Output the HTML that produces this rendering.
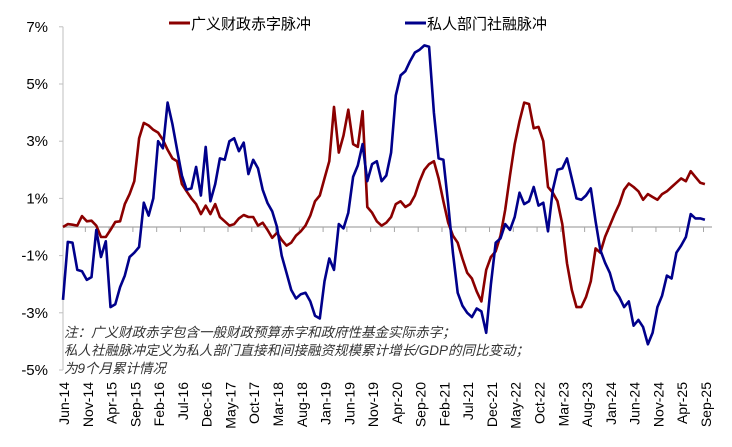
<!DOCTYPE html>
<html><head><meta charset="utf-8"><style>
html,body{margin:0;padding:0;background:#fff;}
svg{display:block;font-family:"Liberation Sans","Noto Sans CJK SC",sans-serif;}
</style></head><body>
<svg id="chart" width="732" height="447" viewBox="0 0 732 447">
<g id="axes"></g>
<g id="series"></g>
<g>
 <line x1="169" y1="23" x2="190" y2="23" stroke="#8B0000" stroke-width="3"/>
 <text x="191" y="29" font-size="15" fill="#000">广义财政赤字脉冲</text>
 <line x1="405" y1="23" x2="426" y2="23" stroke="#00008B" stroke-width="3"/>
 <text x="427" y="29" font-size="15" fill="#000">私人部门社融脉冲</text>
</g>
<g font-size="13.5" font-style="italic" fill="#333">
 <text x="64" y="337">注：广义财政赤字包含一般财政预算赤字和政府性基金实际赤字；</text>
 <text x="64" y="355">私人社融脉冲定义为私人部门直接和间接融资规模累计增长/GDP的同比变动；</text>
 <text x="64" y="373">为9个月累计情况</text>
</g>
</svg>
<script>
const months = ["Jun-14","Nov-14","Apr-15","Sep-15","Feb-16","Jul-16","Dec-16","May-17","Oct-17","Mar-18","Aug-18","Jan-19","Jun-19","Nov-19","Apr-20","Sep-20","Feb-21","Jul-21","Dec-21","May-22","Oct-22","Mar-23","Aug-23","Jan-24","Jun-24","Nov-24","Apr-25","Sep-25"];
const yTicks = [7,5,3,1,-1,-3,-5];
const fiscal = [0.0,0.1,0.08,0.05,0.38,0.2,0.22,0.05,-0.35,-0.35,-0.1,0.18,0.2,0.8,1.15,1.6,3.1,3.64,3.55,3.4,3.3,3.05,2.7,2.4,2.3,1.5,1.25,1.0,0.8,0.45,0.75,0.45,0.8,0.35,0.2,0.05,0.1,0.3,0.42,0.35,0.35,0.05,0.15,-0.1,-0.38,-0.2,-0.45,-0.65,-0.55,-0.3,-0.15,0.05,0.4,0.9,1.1,1.7,2.3,4.2,2.6,3.2,4.1,2.9,2.8,4.05,0.7,0.5,0.2,0.05,0.15,0.35,0.8,0.9,0.7,0.8,1.1,1.6,2.0,2.2,2.3,1.7,0.9,0.15,-0.3,-0.55,-1.1,-1.6,-1.8,-2.25,-2.6,-1.5,-1.05,-0.85,-0.3,0.6,1.8,2.9,3.7,4.35,4.3,3.45,3.5,3.0,1.4,1.2,0.9,0.1,-1.27,-2.2,-2.8,-2.8,-2.45,-1.9,-0.75,-0.9,-0.34,0.05,0.45,0.8,1.3,1.52,1.4,1.25,0.95,1.15,1.05,0.95,1.15,1.25,1.4,1.55,1.7,1.6,1.95,1.75,1.55,1.5];
const privateCredit = [-2.55,-0.52,-0.55,-1.5,-1.55,-1.85,-1.75,-0.1,-1.05,-0.5,-2.8,-2.7,-2.1,-1.7,-1.05,-0.9,-0.7,0.85,0.4,1.0,3.0,2.75,4.35,3.6,2.7,1.8,1.3,1.35,2.1,1.1,2.8,0.9,1.5,2.4,2.35,3.0,3.1,2.65,2.95,1.85,2.35,2.05,1.3,0.84,0.55,0.0,-1.0,-1.6,-2.2,-2.5,-2.35,-2.3,-2.6,-3.1,-3.2,-1.9,-1.1,-1.5,0.1,-0.05,0.5,1.75,2.15,2.9,1.6,2.2,2.3,1.6,1.8,2.6,4.6,5.3,5.45,5.8,6.1,6.2,6.35,6.3,4.0,2.4,2.35,0.8,-0.9,-2.3,-2.75,-3.0,-3.15,-2.85,-2.95,-3.7,-2.0,-0.55,-0.4,0.1,-0.1,0.35,1.2,0.8,0.9,1.4,0.75,0.85,-0.15,1.3,2.0,2.05,2.4,1.7,1.0,0.95,1.1,1.35,0.2,-0.8,-1.25,-1.6,-2.2,-2.45,-2.8,-2.6,-3.45,-3.25,-3.5,-4.1,-3.7,-2.8,-2.4,-1.7,-1.8,-0.9,-0.65,-0.35,0.45,0.3,0.3,0.25];

const NS = "http://www.w3.org/2000/svg";
const X0 = 63, STEP = 4.755, Y0 = 227, PX = 28.6;
function xScale(i){ return X0 + STEP * i; }
function yScale(v){ return Y0 - v * PX; }
function mk(tag, attrs, parent){ const e = document.createElementNS(NS, tag); for (const k in attrs) e.setAttribute(k, attrs[k]); parent.appendChild(e); return e; }

const axes = document.getElementById('axes');
const yAxis = mk('line', {x1:63, y1:yScale(7), x2:63, y2:yScale(-5), stroke:'#bfbfbf', 'stroke-width':1}, axes);


yTicks.forEach(v => {
  const t = mk('line', {x1:59, y1:yScale(v), x2:63, y2:yScale(v), stroke:'#bfbfbf'}, axes);
  
  
  const l = mk('text', {x:48, y:yScale(v)+5, 'text-anchor':'end', 'font-size':15, fill:'#000'}, axes);
  l.textContent = v + '%';
  
  
});
const zero = mk('line', {x1:63, y1:Y0, x2:712, y2:Y0, stroke:'#a6a6a6', 'stroke-width':1.2}, axes);


months.forEach((m, k) => {
  const tx = xScale(k*5 - 0.3);
  if (k > 0) {
    const t = mk('line', {x1:tx, y1:Y0, x2:tx, y2:Y0+5, stroke:'#a6a6a6'}, axes);
    
    
  }
  const lx = xScale(k*5) + 6;
  const l = mk('text', {x:0, y:0, 'text-anchor':'end', 'font-size':14, fill:'#000', transform:`translate(${lx},382) rotate(-90)`}, axes);
  l.textContent = m;
  
  
});

const series = document.getElementById('series');
function drawLine(arr, color, name){
  const d = arr.map((v,i) => (i ? 'L' : 'M') + xScale(i).toFixed(1) + ' ' + yScale(v).toFixed(1)).join(' ');
  const p = mk('path', {d, fill:'none', stroke:color, 'stroke-width':2.6, 'stroke-linejoin':'round'}, series);
  
  
}
drawLine(fiscal, '#8B0000', 'fiscal-pulse-line');
drawLine(privateCredit, '#00008B', 'private-credit-pulse-line');
</script>
</body></html>
